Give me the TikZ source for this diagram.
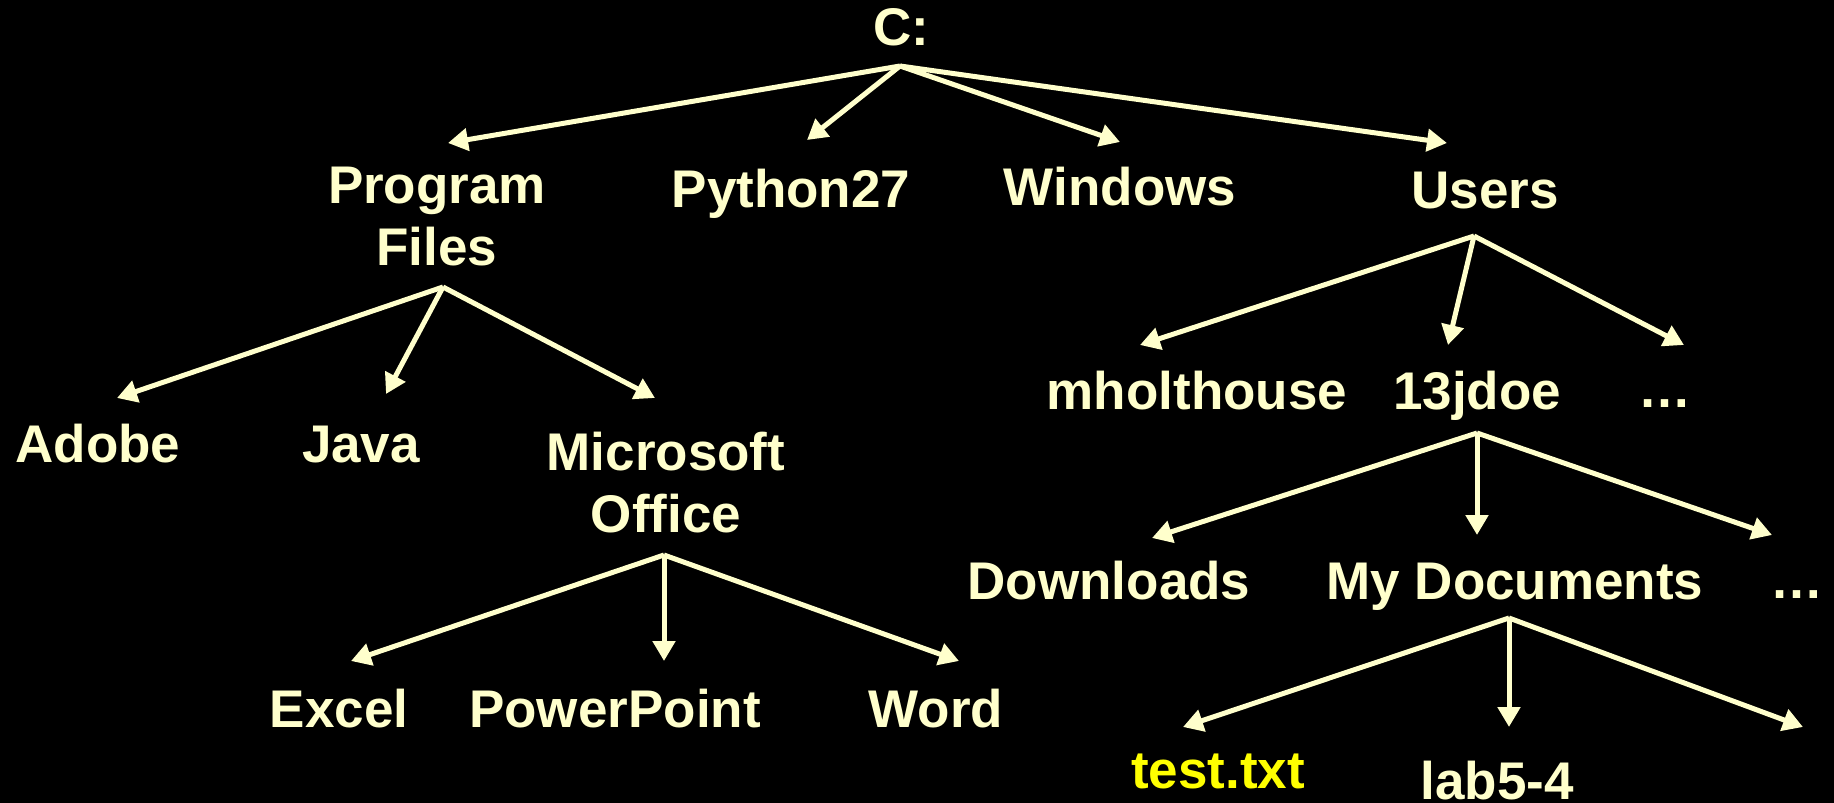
\documentclass[tikz,border=0pt]{standalone}
\usepackage{fontspec}
\setmainfont{Liberation Sans}
\usetikzlibrary{arrows.meta}
\definecolor{paleyellow}{HTML}{FFFFCC}
\definecolor{fileyellow}{HTML}{FFFF00}

\begin{document}
\begin{tikzpicture}[
    x=1pt, y=-1pt,
    folder/.style={anchor=base, inner sep=0pt, text=paleyellow, align=center, font=\fontsize{53}{62}\selectfont\bfseries},
    edge/.style={-{Triangle[length=20pt,width=22pt]}, line width=5pt, draw=paleyellow},
]

\useasboundingbox (0,0) rectangle (1834,803);
\fill[black] (0,0) rectangle (1834,803);

% Root
\node[folder] (root) at (901, 45) {C:};

% Level 1 (multi-line nodes sit on their last line)
\node[folder] (progfiles) at (437, 265) {Program\\Files};
\node[folder] (python) at (791, 207) {Python27};
\node[folder] (windows) at (1120, 205) {Windows};
\node[folder] (users) at (1485, 208) {Users};

% Program Files
\node[folder] (adobe) at (98, 462) {Adobe};
\node[folder] (java) at (361, 462) {Java};
\node[folder] (msoffice) at (666, 532) {Microsoft\\Office};

% Microsoft Office
\node[folder] (excel) at (339, 727) {Excel};
\node[folder] (ppt) at (615, 727) {PowerPoint};
\node[folder] (word) at (936, 727) {Word};

% Users
\node[folder] (mholt) at (1197, 409) {mholthouse};
\node[folder] (jdoe) at (1477, 409) {13jdoe};
\node[folder] (moreusers) at (1665, 407) {…};

% 13jdoe
\node[folder] (downloads) at (1109, 599) {Downloads};
\node[folder] (mydocs) at (1515, 599) {My Documents};
\node[folder] (morejdoe) at (1797, 598) {…};

% My Documents
\node[folder, text=fileyellow] (testtxt) at (1218, 788) {test.txt};
\node[folder] (lab) at (1497, 799) {lab5-4};

% Hubs and tips
\coordinate (root hub) at (900, 66);
\coordinate (pf hub) at (443, 287);
\coordinate (mo hub) at (664, 555);
\coordinate (users hub) at (1474, 236);
\coordinate (jdoe hub) at (1477, 433);
\coordinate (md hub) at (1509, 618);

\coordinate (pf tip) at (448, 143);
\coordinate (py tip) at (807, 140);
\coordinate (win tip) at (1120, 142);
\coordinate (users tip) at (1447, 143);
\coordinate (adobe tip) at (117, 398);
\coordinate (java tip) at (386, 394);
\coordinate (mo tip) at (655, 398);
\coordinate (excel tip) at (351, 661);
\coordinate (ppt tip) at (664, 661);
\coordinate (word tip) at (959, 661);
\coordinate (mholt tip) at (1140, 345);
\coordinate (jdoe tip) at (1448, 345);
\coordinate (moreusers tip) at (1684, 345);
\coordinate (dl tip) at (1152, 538);
\coordinate (md tip) at (1477, 535);
\coordinate (morejdoe tip) at (1772, 535);
\coordinate (test tip) at (1183, 727);
\coordinate (lab tip) at (1509, 727);
\coordinate (moredocs tip) at (1803, 727);

% Connectors
\foreach \t in {pf, py, win, users}
    \draw[edge] (root hub) -- (\t\space tip);
\foreach \t in {adobe, java, mo}
    \draw[edge] (pf hub) -- (\t\space tip);
\foreach \t in {excel, ppt, word}
    \draw[edge] (mo hub) -- (\t\space tip);
\foreach \t in {mholt, jdoe, moreusers}
    \draw[edge] (users hub) -- (\t\space tip);
\foreach \t in {dl, md, morejdoe}
    \draw[edge] (jdoe hub) -- (\t\space tip);
\foreach \t in {test, lab, moredocs}
    \draw[edge] (md hub) -- (\t\space tip);

\end{tikzpicture}
\end{document}
